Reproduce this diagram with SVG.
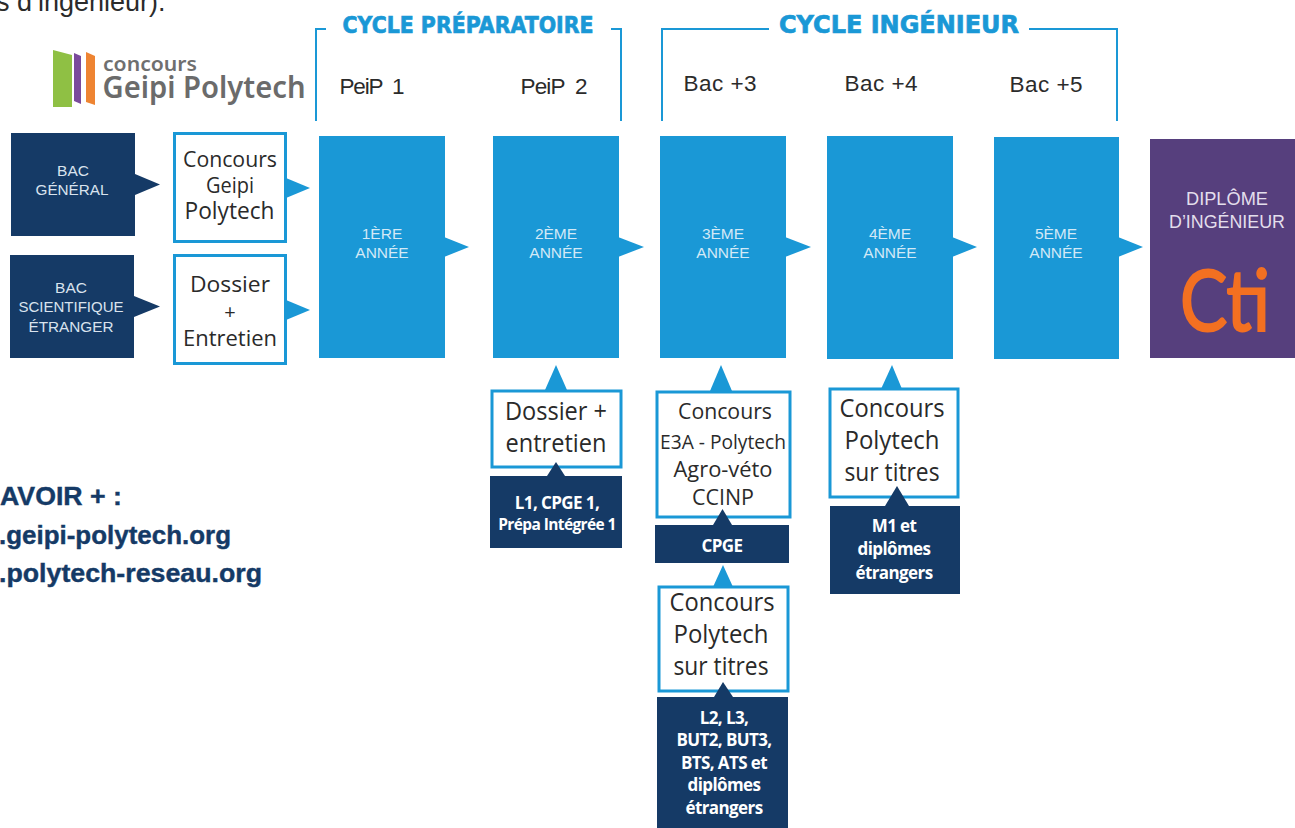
<svg xmlns="http://www.w3.org/2000/svg" width="1295" height="828" viewBox="0 0 1295 828">
<style>
text{text-anchor:middle}
.navy{fill:#153a66}
.blue{fill:#1a98d6}
.wb{fill:#fff;stroke:#1a98d6;stroke-width:3}
.br{fill:none;stroke:#1a98d6;stroke-width:2}
.hd{font:400 22.5px "Liberation Sans",Arial,sans-serif;fill:#2b2b2b}
.yr{font:400 15.5px "Liberation Sans",Arial,sans-serif;fill:#d3e9f6}
.bac{font:400 15.5px "Liberation Sans",Arial,sans-serif;fill:#d9e3ee}
.box{font:400 22px "Open Sans","Noto Sans",sans-serif;fill:#2a2a2a}
.boxb{font:400 25px "Open Sans","Noto Sans",sans-serif;fill:#2a2a2a}
.nv{font:700 17px "Open Sans","Noto Sans",sans-serif;fill:#fff;letter-spacing:-.6px}
.cy{font:700 22.5px "DejaVu Sans",sans-serif;fill:#1a98d6;stroke:#1a98d6;stroke-width:.7px}
.link{font:700 26px "Liberation Sans",Arial,sans-serif;fill:#153a66;text-anchor:start;stroke:#153a66;stroke-width:.4px}
</style>

<g id="intro"><text x="-4" y="11" style="text-anchor:start;font:400 27px 'Liberation Sans',Arial,sans-serif;fill:#2b2b2b">s d’ingénieur).</text></g>

<g id="logo-geipi">
<polygon points="53,50 72,55 72,107 53,107" fill="#8fc044"/>
<polygon points="74,53 81,56 81,104 74,101" fill="#7a4a9c"/>
<polygon points="86,52 95,56 95,105 86,102" fill="#ee8432"/>
<text x="150" y="71" style="font:600 19px 'Noto Sans',sans-serif;fill:#6f6f6f" textLength="94" lengthAdjust="spacingAndGlyphs">concours</text>
<text x="204" y="98" style="font:600 30px 'Noto Sans',sans-serif;fill:#6b6b6b" textLength="203" lengthAdjust="spacingAndGlyphs">Geipi Polytech</text>
</g>

<g id="connectors">
<polygon class="navy" points="135,174 160,184.500 135,195"/>
<polygon class="navy" points="134,296 160,306.500 134,317"/>
<polygon class="blue" points="286,178 310,188 286,198"/>
<polygon class="blue" points="286,300 310,310 286,320"/>
<polygon class="blue" points="444,237 469,247 444,257"/>
<polygon class="blue" points="618,237 644,247 618,257"/>
<polygon class="blue" points="785,237 811,247 785,257"/>
<polygon class="blue" points="952,237 977,247 952,257"/>
<polygon class="blue" points="1118,237 1143,247 1118,257"/>
<polygon class="blue" points="545,390 556,365 567,390"/>
<polygon class="blue" points="710,391 721,365 732,391"/>
<polygon class="blue" points="881,389 892,365 902,389"/>
<polygon class="blue" points="713,587 723,565 733,587"/>
</g>

<g id="cycle-preparatoire">
<path class="br" d="M316,121V29H326M611,29H621V121"/>
<text class="cy" x="468" y="33" textLength="251" lengthAdjust="spacingAndGlyphs">CYCLE PRÉPARATOIRE</text>
</g>
<g id="cycle-ingenieur">
<path class="br" d="M662,121V29H769M1029,29H1117V121"/>
<text class="cy" x="899" y="33" style="font-size:24px" textLength="240" lengthAdjust="spacingAndGlyphs">CYCLE INGÉNIEUR</text>
</g>
<g id="labels">
<text class="hd" x="372" y="94" textLength="65" xml:space="preserve">PeiP  1</text>
<text class="hd" x="554" y="94" textLength="67" xml:space="preserve">PeiP  2</text>
<text class="hd" x="720" y="91" textLength="73">Bac +3</text>
<text class="hd" x="881" y="91" textLength="73">Bac +4</text>
<text class="hd" x="1046" y="92" textLength="73">Bac +5</text>
</g>

<g id="bac-general"><rect class="navy" x="11" y="133" width="124" height="103"/>
<text class="bac" x="73" y="176">BAC</text><text class="bac" x="72" y="195" textLength="73" lengthAdjust="spacingAndGlyphs">GÉNÉRAL</text></g>
<g id="bac-scientifique"><rect class="navy" x="10" y="255" width="124" height="103"/>
<text class="bac" x="71" y="293">BAC</text><text class="bac" x="71" y="312" textLength="105" lengthAdjust="spacingAndGlyphs">SCIENTIFIQUE</text><text class="bac" x="71" y="332" textLength="85" lengthAdjust="spacingAndGlyphs">ÉTRANGER</text></g>

<g id="concours-geipi"><rect class="wb" x="174.500" y="133.500" width="111" height="108"/>
<text class="box" x="230" y="167" style="font-size:21.500px" textLength="94" lengthAdjust="spacingAndGlyphs">Concours</text><text class="box" x="230" y="193" style="font-size:21.500px" textLength="48" lengthAdjust="spacingAndGlyphs">Geipi</text><text class="box" x="229.500" y="219" style="font-size:23px" textLength="90" lengthAdjust="spacingAndGlyphs">Polytech</text></g>
<g id="dossier-entretien-1"><rect class="wb" x="174.500" y="255.500" width="111" height="108"/>
<text class="box" x="230" y="292" textLength="80" lengthAdjust="spacingAndGlyphs">Dossier</text><text class="box" x="230" y="319" style="font-size:20px">+</text><text class="box" x="230" y="346" textLength="94" lengthAdjust="spacingAndGlyphs">Entretien</text></g>

<g id="annee-1"><rect class="blue" x="319" y="136" width="126" height="222"/><text class="yr" x="382" y="239">1ÈRE</text><text class="yr" x="382" y="258">ANNÉE</text></g>
<g id="annee-2"><rect class="blue" x="493" y="136" width="126" height="222"/><text class="yr" x="556" y="239">2ÈME</text><text class="yr" x="556" y="258">ANNÉE</text></g>
<g id="annee-3"><rect class="blue" x="660" y="136" width="126" height="222"/><text class="yr" x="723" y="239">3ÈME</text><text class="yr" x="723" y="258">ANNÉE</text></g>
<g id="annee-4"><rect class="blue" x="827" y="136" width="126" height="223"/><text class="yr" x="890" y="239">4ÈME</text><text class="yr" x="890" y="258">ANNÉE</text></g>
<g id="annee-5"><rect class="blue" x="994" y="137" width="125" height="222"/><text class="yr" x="1056" y="239">5ÈME</text><text class="yr" x="1056" y="258">ANNÉE</text></g>

<g id="diplome"><rect x="1150" y="139" width="145" height="219" fill="#563f7d"/>
<text x="1227" y="205" style="font:400 17.500px 'Liberation Sans',Arial,sans-serif;fill:#e3deec" textLength="82" lengthAdjust="spacingAndGlyphs">DIPLÔME</text>
<text x="1227" y="228" style="font:400 17.500px 'Liberation Sans',Arial,sans-serif;fill:#e3deec" textLength="116" lengthAdjust="spacingAndGlyphs">D’INGÉNIEUR</text>
<text x="1225" y="331" style="font:400 86px Lato,'Liberation Sans',sans-serif;fill:#f37021;stroke:#f37021;stroke-width:2px" textLength="90" lengthAdjust="spacingAndGlyphs">Cti</text></g>

<g id="savoir">
<text class="link" x="0" y="505" textLength="122" lengthAdjust="spacingAndGlyphs">AVOIR + :</text>
<text class="link" x="-1" y="544" textLength="232" lengthAdjust="spacingAndGlyphs">.geipi-polytech.org</text>
<text class="link" x="-1" y="582" textLength="263" lengthAdjust="spacingAndGlyphs">.polytech-reseau.org</text>
</g>

<g id="dossier-entretien-2"><rect class="wb" x="492" y="391" width="129" height="76"/>
<text class="boxb" x="556" y="420" textLength="102" lengthAdjust="spacingAndGlyphs">Dossier +</text><text class="boxb" x="556" y="452" textLength="101" lengthAdjust="spacingAndGlyphs">entretien</text></g>
<g id="l1-cpge"><rect class="navy" x="490" y="476" width="132" height="72"/>
<polygon class="navy" points="547,476 556,462 565,476"/>
<text class="nv" x="557" y="509">L1, CPGE 1,</text><text class="nv" x="557" y="530" style="font-size:15.500px">Prépa Intégrée 1</text></g>

<g id="concours-e3a"><rect class="wb" x="657" y="392" width="133" height="125"/>
<text class="box" x="725" y="419" textLength="94" lengthAdjust="spacingAndGlyphs">Concours</text><text class="box" x="723" y="449" style="font-size:19.500px" textLength="126" lengthAdjust="spacingAndGlyphs">E3A - Polytech</text><text class="box" x="723" y="477" textLength="99" lengthAdjust="spacingAndGlyphs">Agro-véto</text><text class="box" x="723" y="505" textLength="62" lengthAdjust="spacingAndGlyphs">CCINP</text></g>
<g id="cpge"><rect class="navy" x="655" y="525" width="134" height="38"/>
<polygon class="navy" points="713,525 722.500,509 732,525"/>
<text class="nv" x="722" y="552">CPGE</text></g>

<g id="concours-titres-3"><rect class="wb" x="659" y="587" width="129" height="104"/>
<text class="boxb" x="722" y="611" textLength="105" lengthAdjust="spacingAndGlyphs">Concours</text><text class="boxb" x="721" y="643" textLength="95" lengthAdjust="spacingAndGlyphs">Polytech</text><text class="boxb" x="721" y="675" textLength="95" lengthAdjust="spacingAndGlyphs">sur titres</text></g>
<g id="l2-l3"><rect class="navy" x="657" y="697" width="131" height="131"/>
<polygon class="navy" points="714,697 723,682 733,697"/>
<text class="nv" x="724" y="724">L2, L3,</text><text class="nv" x="724" y="746">BUT2, BUT3,</text><text class="nv" x="724" y="769">BTS, ATS et</text><text class="nv" x="724" y="791">diplômes</text><text class="nv" x="724" y="814">étrangers</text></g>

<g id="concours-titres-4"><rect class="wb" x="830" y="389" width="128" height="108"/>
<text class="boxb" x="892" y="417" textLength="105" lengthAdjust="spacingAndGlyphs">Concours</text><text class="boxb" x="892" y="449" textLength="95" lengthAdjust="spacingAndGlyphs">Polytech</text><text class="boxb" x="892" y="481" textLength="95" lengthAdjust="spacingAndGlyphs">sur titres</text></g>
<g id="m1"><rect class="navy" x="830" y="506" width="130" height="88"/>
<polygon class="navy" points="885,506 897,486 909,506"/>
<text class="nv" x="894" y="532">M1 et</text><text class="nv" x="894" y="555">diplômes</text><text class="nv" x="894" y="579">étrangers</text></g>
</svg>
